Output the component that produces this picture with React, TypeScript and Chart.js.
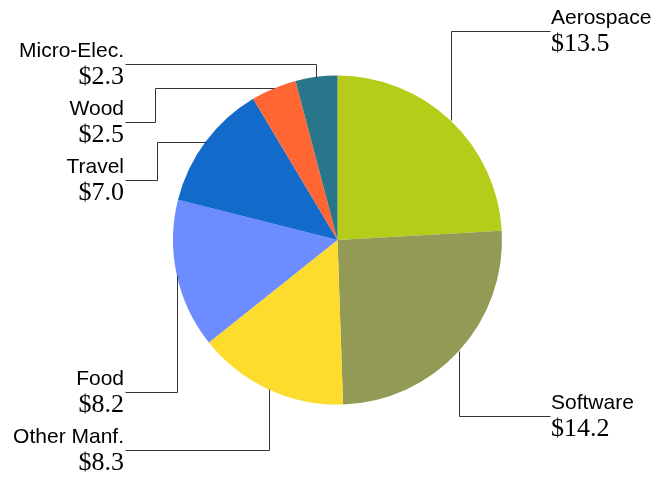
import React, { useEffect, useRef } from "react";
import { Chart, registerables } from "chart.js";

Chart.register(...registerables);

const categories = ["Aerospace", "Software", "Other Manf.", "Food", "Travel", "Wood", "Micro-Elec."];
const values = [13.5, 14.2, 8.3, 8.2, 7.0, 2.5, 2.3];
const valueLabels = ["$13.5", "$14.2", "$8.3", "$8.2", "$7.0", "$2.5", "$2.3"];
const colors = ["#B5CC18", "#929A55", "#FDDC2D", "#6C8CFF", "#126BCB", "#FF6633", "#29758A"];

// label layout: y of leader's horizontal end, x where label anchors, alignment, optional elbow x
const labelLayout = [
  { lineY: 31, labelX: 550, align: "left", elbowX: null },
  { lineY: 416, labelX: 550, align: "left", elbowX: null },
  { lineY: 450, labelX: 125, align: "right", elbowX: null },
  { lineY: 392, labelX: 125, align: "right", elbowX: null },
  { lineY: 180, labelX: 125, align: "right", elbowX: 157 },
  { lineY: 122, labelX: 125, align: "right", elbowX: 155 },
  { lineY: 64, labelX: 125, align: "right", elbowX: null },
];

const leaderPlugin = {
  id: "leaders",
  afterDraw(chart: any) {
    const ctx = chart.ctx;
    const meta = chart.getDatasetMeta(0);
    ctx.save();
    meta.data.forEach((arc: any, i: number) => {
      const L = labelLayout[i];
      const mid = (arc.startAngle + arc.endAngle) / 2;
      const px = Math.round(arc.x + Math.cos(mid) * arc.outerRadius) + 0.5;
      const py = Math.round(arc.y + Math.sin(mid) * arc.outerRadius) + 0.5;
      const ly = Math.round(L.lineY) + 0.5;
      const lx = L.labelX + 0.5;
      ctx.strokeStyle = "#333333";
      ctx.lineWidth = 1;
      ctx.beginPath();
      ctx.moveTo(px, py);
      if (L.elbowX !== null) {
        const ex = L.elbowX + 0.5;
        ctx.lineTo(ex, py);
        ctx.lineTo(ex, ly);
      } else {
        ctx.lineTo(px, ly);
      }
      ctx.lineTo(lx, ly);
      ctx.stroke();

      const tx = L.align === "left" ? L.labelX + 1 : L.labelX - 1;
      ctx.fillStyle = "#000000";
      ctx.textAlign = L.align;
      ctx.textBaseline = "alphabetic";
      ctx.font = '21px "Liberation Sans", Arial, sans-serif';
      ctx.fillText(categories[i], tx, L.lineY - 7);
      ctx.font = '26px "Liberation Serif", "Times New Roman", serif';
      ctx.fillText(valueLabels[i], tx, L.lineY + 20);
    });
    ctx.restore();
  },
};

export default function App() {
  const ref = useRef<HTMLCanvasElement>(null);
  useEffect(() => {
    const chart = new Chart(ref.current!, {
      type: "pie",
      data: {
        labels: categories,
        datasets: [
          {
            data: values,
            backgroundColor: colors,
            borderWidth: 0,
          },
        ],
      },
      options: {
        animation: false,
        responsive: false,
        maintainAspectRatio: false,
        layout: { padding: { left: 173, right: 159, top: 75.5, bottom: 72.5 } },
        plugins: {
          legend: { display: false },
          tooltip: { enabled: false },
        },
      },
      plugins: [leaderPlugin],
    });
    return () => chart.destroy();
  }, []);
  return (
    <div style={{ position: "fixed", left: 0, top: 0, width: 661, height: 477, background: "#fff" }}>
      <canvas ref={ref} width={661} height={477} style={{ width: 661, height: 477 }} />
    </div>
  );
}
